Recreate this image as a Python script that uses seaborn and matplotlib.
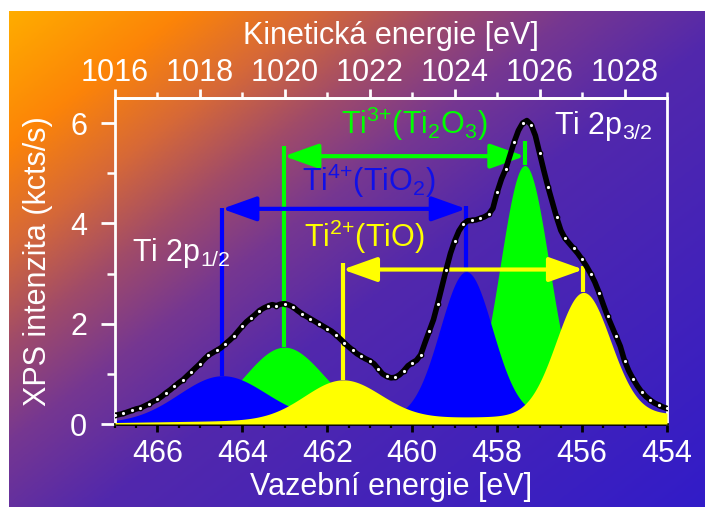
import numpy as np
import matplotlib
matplotlib.use("Agg")
import matplotlib.pyplot as plt
import seaborn as sns
from matplotlib.patches import FancyArrowPatch
from matplotlib.colors import LinearSegmentedColormap
from matplotlib.ticker import MultipleLocator, FixedLocator

# ---------------- data ----------------
binding_energy = np.round(np.linspace(467.0, 454.0, 131), 1)
intensity = [
    0.17, 0.19, 0.21, 0.24, 0.27, 0.30, 0.32, 0.36, 0.40, 0.45,
    0.49, 0.55, 0.62, 0.68, 0.75, 0.82, 0.88, 0.96, 1.04, 1.12,
    1.20, 1.29, 1.37, 1.42, 1.47, 1.52, 1.60, 1.67, 1.75, 1.85,
    1.95, 2.04, 2.11, 2.18, 2.26, 2.31, 2.35, 2.38, 2.36, 2.39,
    2.40, 2.37, 2.33, 2.26, 2.20, 2.15, 2.10, 2.05, 2.00, 1.95,
    1.90, 1.85, 1.78, 1.70, 1.62, 1.54, 1.47, 1.40, 1.35, 1.30,
    1.26, 1.20, 1.10, 1.00, 0.95, 0.92, 0.93, 0.98, 1.06, 1.16,
    1.22, 1.27, 1.38, 1.62, 1.85, 2.08, 2.40, 2.74, 3.08, 3.40,
    3.65, 3.85, 3.98, 4.05, 4.06, 4.07, 4.10, 4.13, 4.18, 4.30,
    4.62, 4.88, 5.08, 5.35, 5.62, 5.85, 6.00, 6.05, 5.97, 5.75,
    5.40, 5.05, 4.72, 4.42, 4.12, 3.86, 3.70, 3.60, 3.50, 3.40,
    3.28, 3.15, 3.00, 2.83, 2.62, 2.38, 2.15, 1.95, 1.75, 1.55,
    1.26, 1.06, 0.90, 0.76, 0.64, 0.55, 0.48, 0.42, 0.38, 0.34,
    0.31,
]

# fitted components (Ti3+, Ti4+, Ti2+): 2p3/2 and 2p1/2 peaks
comp_colors = ["#00ff00", "#0000ff", "#ffff00"]
center_32 = [457.35, 458.73, 455.97]
center_12 = [463.02, 464.48, 461.64]
height_32 = [5.00, 2.90, 2.45]
height_12 = [1.45, 0.90, 0.78]
fwhm_32 = [1.35, 1.45, 1.50]
fwhm_12 = [2.20, 2.40, 2.10]
background_ends = [0.03, 0.20]          # at 467 eV and 454 eV

# doublet markers
arrow_y = [5.34, 4.29, 3.08]
line_top_12 = [5.55, 4.31, 3.21]
line_top_32 = [5.65, 4.35, 3.15]

labels = [r"Ti$^{3{+}}$(Ti$_2$O$_3$)", r"Ti$^{4{+}}$(TiO$_2$)", r"Ti$^{2{+}}$(TiO)"]
label_pos = [(461.68, 5.78), (462.59, 4.65), (462.56, 3.52)]
label_colors = ["#00ff00", "#1010e8", "#ffff00"]

bottom_ticks = [466, 464, 462, 460, 458, 456, 454]
top_ticks = [1016, 1018, 1020, 1022, 1024, 1026, 1028]
y_ticks = [0, 2, 4, 6]
photon_minus_phi = 1483.0   # KE = 1483 - BE

# ---------------- style ----------------
sns.set_style("ticks")
plt.rcParams["font.family"] = ["Liberation Sans", "DejaVu Sans"]
plt.rcParams["mathtext.fontset"] = "custom"
plt.rcParams["mathtext.rm"] = "Liberation Sans"
plt.rcParams["mathtext.it"] = "Liberation Sans:italic"
plt.rcParams["mathtext.bf"] = "Liberation Sans:bold"
plt.rcParams["mathtext.sf"] = "Liberation Sans"
plt.rcParams["mathtext.default"] = "rm"

W, H = 705, 509
fig = plt.figure(figsize=(W / 100, H / 100), dpi=100)
fig.patch.set_facecolor("white")

# gradient background
bg_ax = fig.add_axes([9 / W, 1 - 507 / H, (W - 9) / W, (507 - 11) / H], zorder=0)
gx = np.linspace(0, 1, 400)
gy = np.linspace(0, 1, 300)
XX, YY = np.meshgrid(gx, gy)
T = 0.8 * XX + 0.75 * YY
stops = [(0.0, (255, 172, 0)), (0.2, (252, 132, 8)), (0.35, (215, 105, 55)),
         (0.5, (160, 75, 105)), (0.65, (118, 55, 145)), (0.85, (82, 40, 172)),
         (1.55, (50, 28, 200))]
cmap = LinearSegmentedColormap.from_list(
    "bg", [(p / 1.55, tuple(c / 255 for c in col)) for p, col in stops])
bg_ax.imshow(T, cmap=cmap, vmin=0, vmax=1.55, aspect="auto",
             interpolation="bilinear", origin="upper")
bg_ax.axis("off")

ax = fig.add_axes([115 / W, 1 - 424 / H, (667 - 115) / W, (424 - 98) / H], zorder=2)
ax.set_facecolor("none")
ax.set_xlim(467, 454)
ax.set_ylim(0, 6.5)

E = np.linspace(467.0, 454.0, 1301)
bg_line = background_ends[0] + (467.0 - E) / 13.0 * (background_ends[1] - background_ends[0])


def gauss(x, c, h, fw):
    s = fw / 2.3548
    return h * np.exp(-0.5 * ((x - c) / s) ** 2)


comp_curves = []
for i in range(3):
    curve = bg_line + gauss(E, center_32[i], height_32[i], fwhm_32[i]) + \
        gauss(E, center_12[i], height_12[i], fwhm_12[i])
    comp_curves.append(curve)
    ax.fill_between(E, 0, curve, color=comp_colors[i], lw=0, zorder=1 + i)

# doublet lines and arrows
for i in range(3):
    for c, top in ((center_12[i], line_top_12[i]), (center_32[i], line_top_32[i])):
        peak = np.interp(c, E[::-1], comp_curves[i][::-1])
        ax.plot([c, c], [peak, top], color=comp_colors[i], lw=3.0,
                solid_capstyle="butt", zorder=5)
    arr = FancyArrowPatch((center_12[i], arrow_y[i]), (center_32[i], arrow_y[i]),
                          arrowstyle="<|-|>,head_length=21,head_width=7.5",
                          mutation_scale=1, shrinkA=0, shrinkB=0,
                          color=comp_colors[i], lw=3.0, zorder=5)
    ax.add_patch(arr)

# measured spectrum
sns.lineplot(x=binding_energy, y=intensity, ax=ax, color="black", linewidth=4.0,
             marker="o", markersize=3.2, markerfacecolor="white", markevery=2,
             markeredgecolor="black", markeredgewidth=0.9, sort=False, zorder=8)

# labels
for txt, (lx, ly), col in zip(labels, label_pos, label_colors):
    ax.text(lx, ly, txt, color=col, fontsize=22, ha="left", va="baseline", zorder=9)
ax.text(456.65, 5.78, r"Ti 2p$_{3/2}$", color="white", fontsize=22,
        ha="left", va="baseline", zorder=9)
ax.text(466.6, 3.25, r"Ti 2p$_{1/2}$", color="white", fontsize=22,
        ha="left", va="baseline", zorder=9)

# axes styling
for side in ("left", "top", "right"):
    ax.spines[side].set_color("white")
    ax.spines[side].set_linewidth(2.0)
ax.spines["bottom"].set_color("black")
ax.spines["bottom"].set_linewidth(2.0)

ax.xaxis.set_major_locator(FixedLocator(bottom_ticks))
ax.xaxis.set_minor_locator(MultipleLocator(0.5))
ax.yaxis.set_major_locator(FixedLocator(y_ticks))
ax.yaxis.set_minor_locator(MultipleLocator(1))
ax.tick_params(axis="x", which="major", direction="out", length=6, width=2.0,
               color="black", labelcolor="white", labelsize=22, pad=5)
ax.tick_params(axis="x", which="minor", direction="out", length=3, width=1.6,
               color="black")
ax.tick_params(axis="y", which="major", direction="out", length=10, width=2.0,
               color="white", labelcolor="white", labelsize=22, pad=10)
ax.tick_params(axis="y", which="minor", direction="out", length=5.5, width=1.8,
               color="white")
ax.set_xlabel("Vazební energie [eV]", color="white", fontsize=22, labelpad=2)
ax.set_ylabel("XPS intenzita (kcts/s)", color="white", fontsize=22, labelpad=12)

sec = ax.secondary_xaxis("top", functions=(lambda x: photon_minus_phi - x,
                                           lambda x: photon_minus_phi - x))
sec.xaxis.set_major_locator(FixedLocator(top_ticks))
sec.xaxis.set_minor_locator(MultipleLocator(1))
sec.spines["top"].set_color("white")
sec.spines["top"].set_linewidth(2.0)
sec.tick_params(axis="x", which="major", direction="out", length=6.5, width=2.0,
                color="white", labelcolor="white", labelsize=22, pad=1)
sec.tick_params(axis="x", which="minor", direction="out", length=4.3, width=1.8,
                color="white")
sec.set_xlabel("Kinetická energie [eV]", color="white", fontsize=22, labelpad=10)

fig.savefig("out.png", dpi=100, facecolor=fig.get_facecolor())
